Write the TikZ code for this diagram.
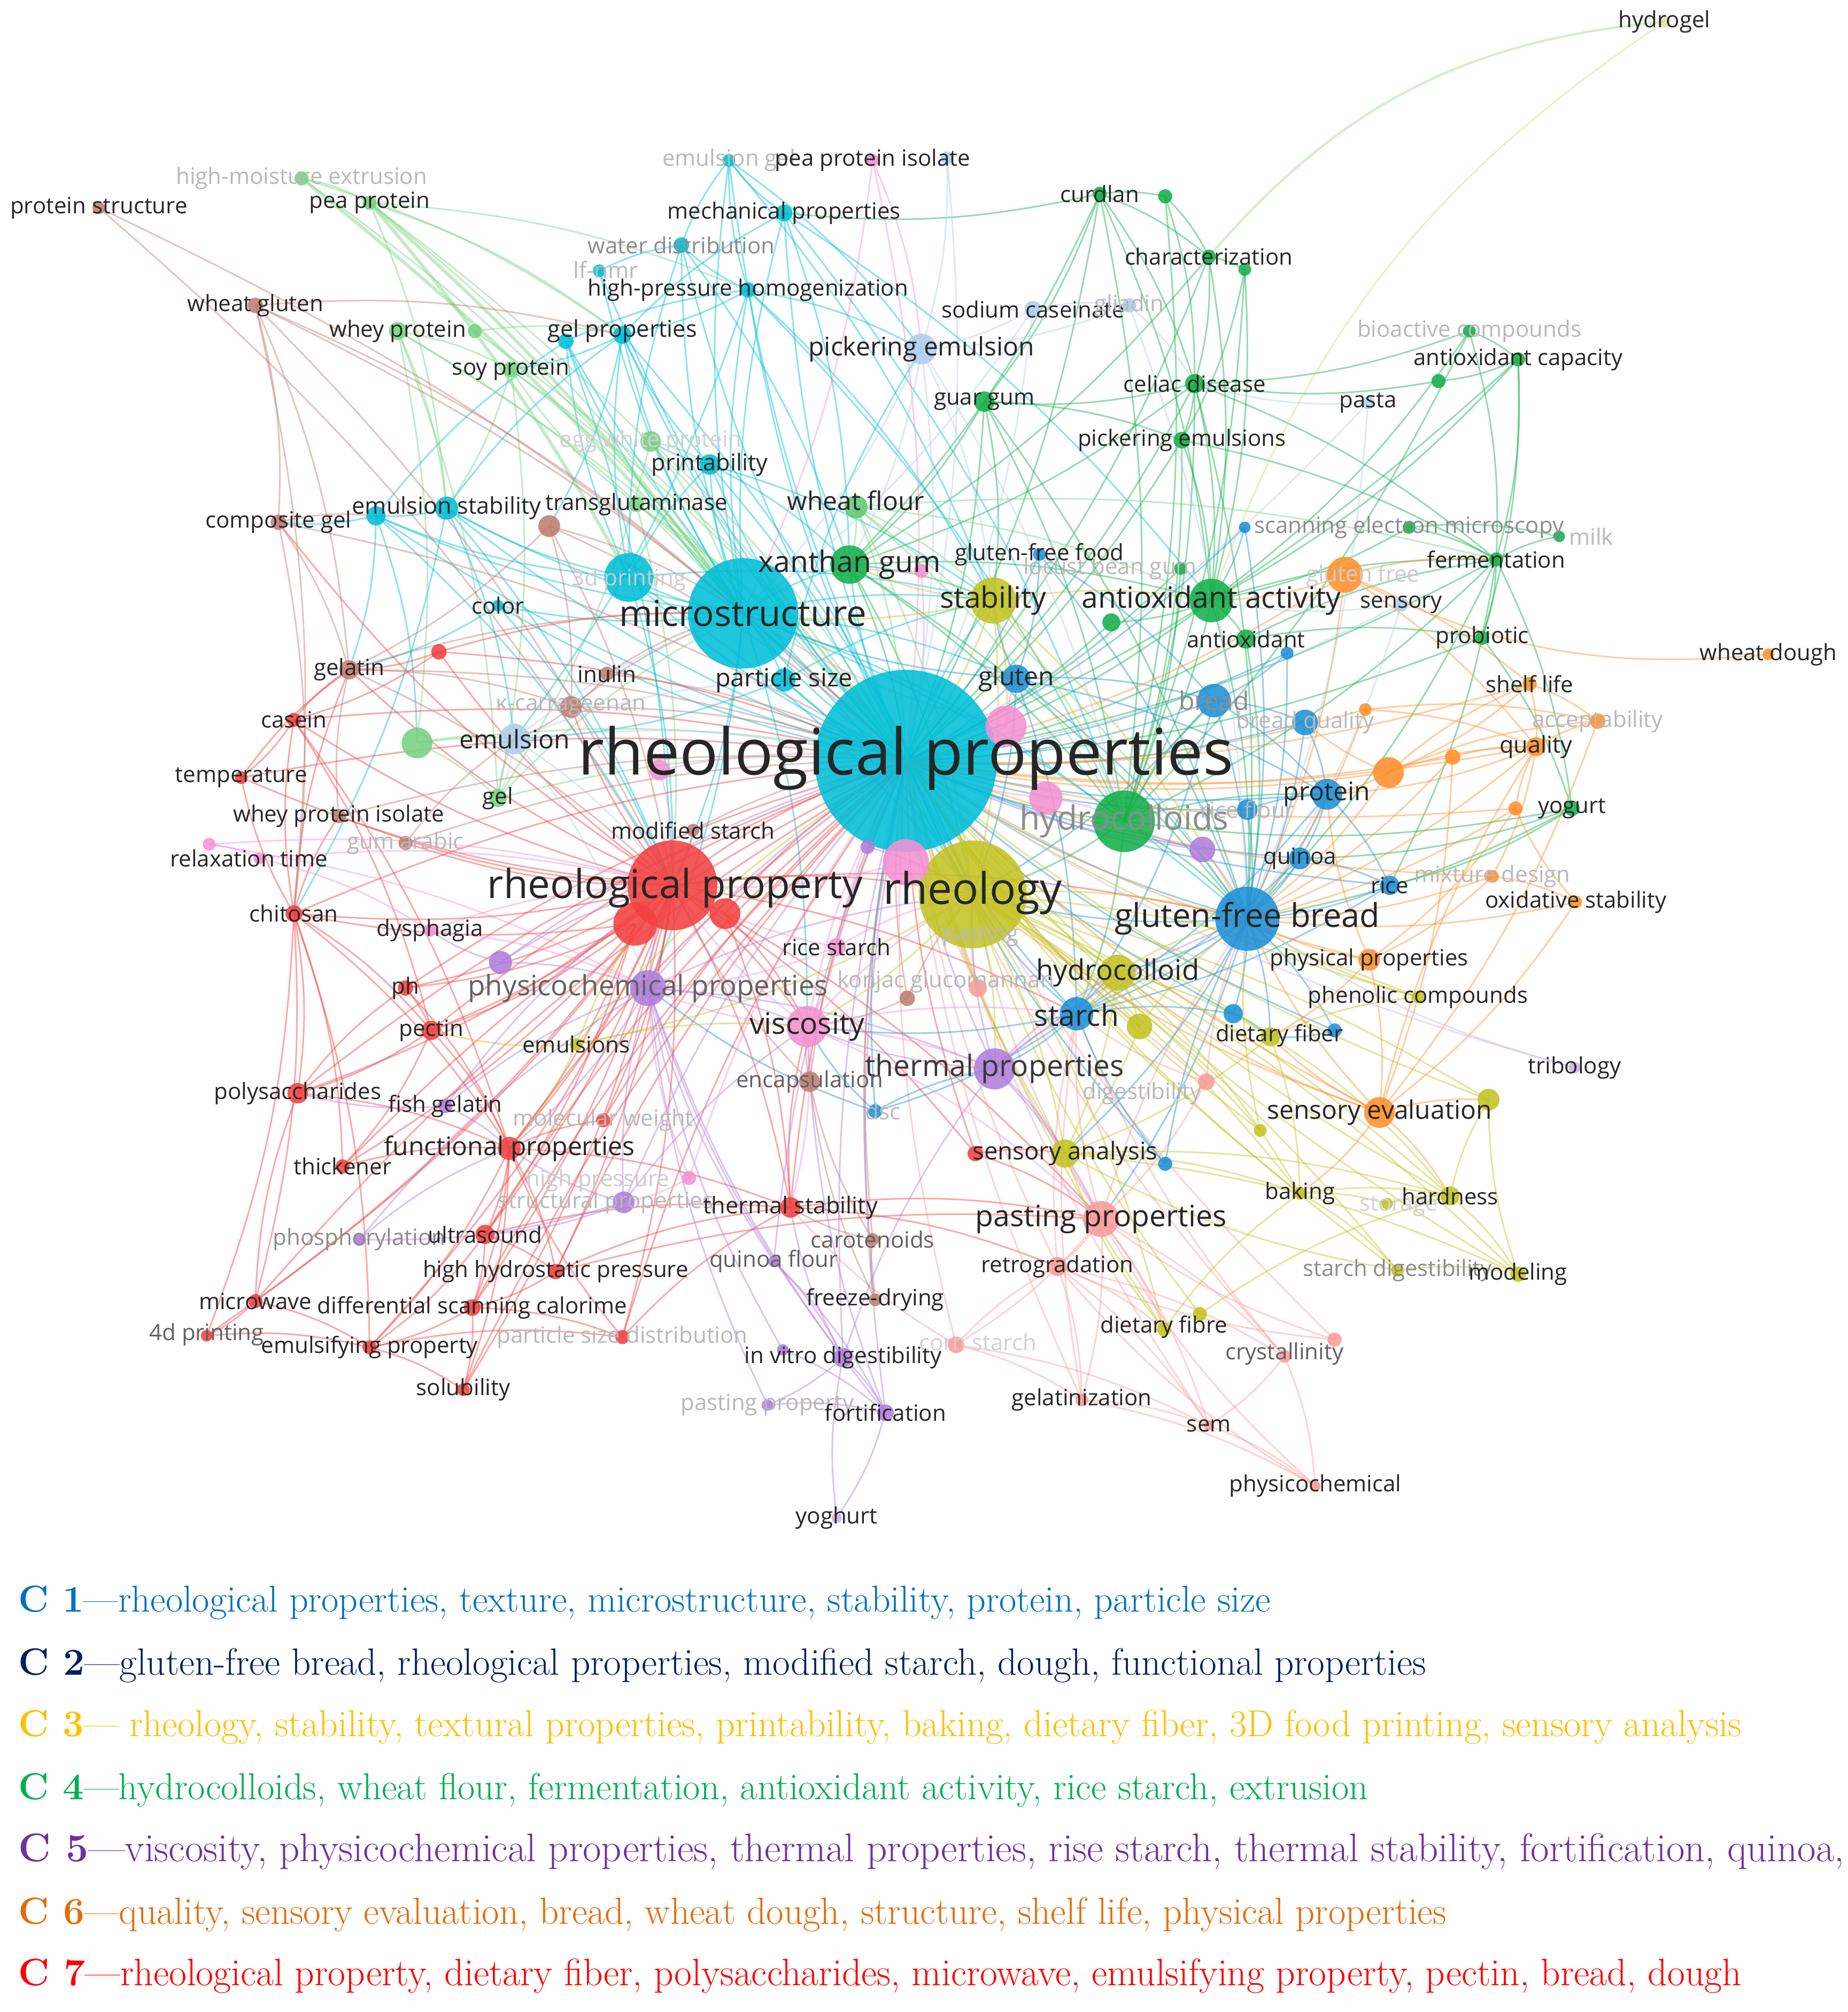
\documentclass[tikz,border=0pt]{standalone}
\usepackage{fontspec}
\usepackage{graphicx}
\newfontfamily\osans{Open Sans}
\definecolor{cy}{RGB}{0,190,215}
\definecolor{rd}{RGB}{242,65,65}
\definecolor{sa}{RGB}{250,155,155}
\definecolor{br}{RGB}{190,125,115}
\definecolor{lg}{RGB}{120,210,130}
\definecolor{gr}{RGB}{20,175,75}
\definecolor{bl}{RGB}{30,145,215}
\definecolor{ye}{RGB}{195,195,35}
\definecolor{orn}{RGB}{255,145,45}
\definecolor{pu}{RGB}{175,125,220}
\definecolor{pk}{RGB}{245,145,210}
\definecolor{lb}{RGB}{175,205,235}
\definecolor{hy}{RGB}{225,225,160}
\definecolor{pul}{RGB}{205,180,230}
\definecolor{cA}{RGB}{0,112,192}
\definecolor{cB}{RGB}{0,32,96}
\definecolor{cC}{RGB}{255,192,0}
\definecolor{cD}{RGB}{0,176,80}
\definecolor{cE}{RGB}{112,48,160}
\definecolor{cF}{RGB}{228,108,10}
\definecolor{cG}{RGB}{255,0,0}
\tikzset{
  ed/.style={line width=1.25pt, draw opacity=.45},
  kd/.style={circle, inner sep=0pt, fill opacity=.88, draw=none},
  lab/.style={inner sep=0pt, text=black!85, font={\osans\fontsize{17.5}{18}\selectfont}},
  fs/.style={font={\osans\fontsize{#1}{#1}\selectfont}},
  gA/.style={text=black!62},
  gB/.style={text=black!45},
  gC/.style={text=black!28},
  leg/.style={anchor=west, inner sep=0pt, font={\fontsize{26.5}{27}\selectfont}}
}
\newcommand\edges[2]{\foreach \a/\b in {#2} {\draw[ed,draw=#1] (\a) to[bend left=9] (\b);}}
\newcommand\kc[3]{\node[kd,minimum size=#2pt,fill=#3] (c#1) at (#1) {};}
\newcommand\kl[3][]{\node[lab,#1] (l#2) at (#2) {#3};}
\newcommand\klat[4][]{\node[lab,#1] (l#2) at (#3) {#4};}
\newcommand\legline[2]{\resizebox{#1pt}{!}{#2}}
\begin{document}
\begin{tikzpicture}[x=1pt,y=-1pt]
\useasboundingbox (0,0) rectangle (1440,1568);
% ---------- positions ----------
\coordinate (rp) at (706,593); \coordinate (micro) at (579,478); \coordinate (prnt) at (490,450);
\coordinate (partsz) at (611,530); \coordinate (emst) at (348,396); \coordinate (emsta) at (293,402);
\coordinate (printab) at (553,362); \coordinate (hph) at (583,226); \coordinate (gelp) at (485,261);
\coordinate (gelpa) at (441,266); \coordinate (waterd) at (531,191); \coordinate (lfnmr) at (467,211);
\coordinate (mechp) at (611,166); \coordinate (emgel) at (568,125); \coordinate (color) at (388,472);
\coordinate (rpy) at (524,690); \coordinate (rpyb) at (495,720); \coordinate (rpyc) at (565,712);
\coordinate (redA) at (342,508); \coordinate (casein) at (229,561); \coordinate (temp) at (188,606);
\coordinate (chitosan) at (229,712); \coordinate (ph) at (316,770); \coordinate (pectin) at (336,803);
\coordinate (polys) at (232,852); \coordinate (thick) at (267,909); \coordinate (funcp) at (397,895);
\coordinate (molw) at (470,873); \coordinate (ultra) at (378,962); \coordinate (hhp) at (433,991);
\coordinate (dsc) at (368,1019); \coordinate (microw) at (199,1014); \coordinate (dfour) at (161,1041);
\coordinate (psd) at (485,1042); \coordinate (emuls) at (288,1050); \coordinate (solub) at (361,1083);
\coordinate (thst) at (616,941); \coordinate (redB) at (760,899);
\coordinate (pastp) at (858,950); \coordinate (retro) at (824,987); \coordinate (corn) at (745,1048);
\coordinate (cryst) at (1001,1057); \coordinate (crysta) at (1040,1044); \coordinate (gelat) at (843,1091);
\coordinate (sem) at (942,1111); \coordinate (physchem) at (1025,1158); \coordinate (digest) at (940,843);
\coordinate (saA) at (762,770);
\coordinate (pstruct) at (77,162); \coordinate (wglut) at (199,238); \coordinate (compg) at (217,407);
\coordinate (transb) at (428,410); \coordinate (gelatin) at (272,522); \coordinate (inulin) at (473,525);
\coordinate (kcarr) at (445,551); \coordinate (wpi) at (264,636); \coordinate (gumar) at (316,657);
\coordinate (modst) at (540,647); \coordinate (konjac) at (707,778); \coordinate (encap) at (631,843);
\coordinate (carot) at (680,966); \coordinate (freeze) at (682,1013);
\coordinate (hme) at (235,139); \coordinate (peap) at (288,158); \coordinate (wheyp) at (310,258);
\coordinate (wheypb) at (370,258); \coordinate (soyp) at (398,288); \coordinate (egg) at (507,344);
\coordinate (transg) at (496,393); \coordinate (lgA) at (325,579); \coordinate (gel) at (388,622);
\coordinate (wflour) at (667,395);
\coordinate (curd) at (857,151); \coordinate (curdb) at (908,153); \coordinate (charz) at (942,200);
\coordinate (charzb) at (970,210); \coordinate (bioact) at (1145,258); \coordinate (antcap) at (1183,280);
\coordinate (antcapb) at (1121,297); \coordinate (celiac) at (931,299); \coordinate (guar) at (767,313);
\coordinate (pickes) at (921,343); \coordinate (xanth) at (662,440); \coordinate (antact) at (944,468);
\coordinate (antactb) at (866,485); \coordinate (antiox) at (971,498); \coordinate (semg) at (1098,411);
\coordinate (milk) at (1215,418); \coordinate (ferm) at (1166,436); \coordinate (locust) at (920,443);
\coordinate (probio) at (1155,497); \coordinate (yogurt) at (1225,630); \coordinate (hydcs) at (876,640);
\coordinate (gff) at (810,432); \coordinate (semb) at (970,411); \coordinate (blA) at (1003,509);
\coordinate (gluten) at (792,529); \coordinate (bread) at (946,546); \coordinate (breadq) at (1017,563);
\coordinate (protein) at (1034,619); \coordinate (riceflour) at (972,631); \coordinate (quinoa) at (1013,669);
\coordinate (rice) at (1083,690); \coordinate (gfb) at (972,716); \coordinate (starch) at (839,790);
\coordinate (blB) at (961,790); \coordinate (blC) at (1040,803); \coordinate (dscb) at (682,866);
\coordinate (blD) at (908,907);
\coordinate (hydrogel) at (1297,17); \coordinate (stab) at (774,468); \coordinate (rheo) at (758,697);
\coordinate (hydcoll) at (871,758); \coordinate (yeA) at (888,800); \coordinate (dfiber) at (990,808);
\coordinate (phenol) at (1105,777); \coordinate (emulsions) at (449,814); \coordinate (yeB) at (1160,857);
\coordinate (yeC) at (982,881); \coordinate (sensan) at (830,899); \coordinate (baking) at (1013,930);
\coordinate (storage) at (1081,938); \coordinate (hard) at (1130,932); \coordinate (stdig) at (1089,990);
\coordinate (model) at (1183,993); \coordinate (dfibre) at (907,1036); \coordinate (dfibreb) at (935,1024);
\coordinate (orA) at (1048,448); \coordinate (wdough) at (1378,510); \coordinate (shelf) at (1192,533);
\coordinate (orB) at (1064,553); \coordinate (accept) at (1245,562); \coordinate (orC) at (1132,590);
\coordinate (orD) at (1082,602); \coordinate (quality) at (1197,582); \coordinate (orE) at (1181,630);
\coordinate (mixd) at (1163,683); \coordinate (oxst) at (1228,703); \coordinate (physp) at (1067,748);
\coordinate (sensev) at (1075,867);
\coordinate (puA) at (937,662); \coordinate (puB) at (390,750); \coordinate (pcp) at (505,770);
\coordinate (thp) at (775,833); \coordinate (fishg) at (347,862); \coordinate (strp) at (486,937);
\coordinate (phosph) at (280,966); \coordinate (qflour) at (603,983); \coordinate (ivd) at (657,1058);
\coordinate (ivdb) at (610,1052); \coordinate (pastpy) at (598,1095); \coordinate (fort) at (690,1101);
\coordinate (yoghurt) at (652,1183); \coordinate (tribo) at (1227,832); \coordinate (puC) at (676,660);
\coordinate (ppi) at (680,125); \coordinate (relaxa) at (163,658); \coordinate (relaxb) at (202,669);
\coordinate (dysph) at (335,725); \coordinate (pkA) at (784,566); \coordinate (pkB) at (815,622);
\coordinate (pkC) at (514,600); \coordinate (pkD) at (706,672); \coordinate (ricest) at (652,738);
\coordinate (visc) at (629,800); \coordinate (pkE) at (537,918); \coordinate (pkF) at (718,445);
\coordinate (lbA) at (738,123); \coordinate (sodc) at (805,241); \coordinate (gliad) at (880,238);
\coordinate (picke) at (718,272); \coordinate (pasta) at (1066,314); \coordinate (emul) at (401,576);
\coordinate (sensory) at (1092,471);
% ---------- connectors ----------
\edges{cy}{rp/micro, rp/prnt, rp/partsz, rp/emst, rp/emsta, rp/printab, rp/hph, rp/gelp, rp/gelpa, rp/waterd, rp/mechp, rp/emgel, rp/color, rp/lfnmr, micro/prnt, micro/partsz, micro/emst, micro/emsta, micro/printab, micro/hph, micro/gelp, micro/gelpa, micro/waterd, micro/mechp, micro/emgel, micro/color, micro/lfnmr, prnt/printab, prnt/gelp, prnt/emst, prnt/gelpa, prnt/waterd, prnt/emsta, emst/emsta, emst/gelp, emsta/gelpa, printab/gelp, hph/gelp, hph/emgel, hph/waterd, mechp/emgel, mechp/xanth, waterd/emgel, lfnmr/waterd, gelp/mechp, gelpa/hph, emst/rpy, emsta/rpy, micro/rpy, micro/rheo, micro/xanth, micro/stab, micro/gluten, micro/hydcs, micro/visc, prnt/rpy, partsz/emul, partsz/stab, partsz/picke, emgel/picke, mechp/hydcs, hph/picke, hph/emul, emst/emul, printab/rheo, printab/stab, color/rpy, color/gelatin, gelp/transb, gelp/soyp, hph/stab, micro/gfb, micro/pcp, prnt/rheo, prnt/stab, emsta/compg, emsta/gelatin, emst/chitosan, waterd/xanth, mechp/antact, emgel/stab, printab/xanth, gelp/rheo, gelpa/rpy, hph/hydcs, rp/stab, rp/xanth, partsz/rheo, emsta/lgA, printab/egg}
\edges{gr}{curd/charz, curd/curdb, curd/rp, curd/xanth, curd/guar, curd/celiac, curd/mechp, curd/hydcs, curdb/charz, curdb/celiac, charz/charzb, charz/celiac, charz/antact, charz/rp, charzb/hydcs, charzb/antact, bioact/antcap, bioact/celiac, bioact/antact, bioact/ferm, antcap/antcapb, antcap/ferm, antcap/antact, antcap/probio, antcapb/celiac, celiac/guar, celiac/pickes, celiac/xanth, celiac/hydcs, celiac/rp, celiac/gfb, celiac/antact, guar/xanth, guar/rp, guar/hydcs, guar/stab, guar/gfb, pickes/rp, pickes/antact, pickes/hydcs, xanth/rp, xanth/hydcs, xanth/antact, xanth/gfb, xanth/rheo, xanth/stab, antact/rp, antact/antiox, antact/ferm, antact/hydcs, antact/gfb, antact/antactb, antiox/rp, antiox/ferm, antiox/probio, semg/ferm, semg/milk, semg/antact, ferm/probio, ferm/milk, ferm/yogurt, ferm/rp, ferm/hydcs, ferm/gfb, probio/yogurt, probio/rp, yogurt/rice, yogurt/gfb, yogurt/hydcs, hydcs/rp, hydcs/gfb, hydcs/rheo, hydcs/starch, hydcs/bread, hydcs/protein, locust/hydcs, locust/rp, antactb/rp, guar/pickes, charz/xanth, curd/antact, celiac/ferm, pickes/ferm, antiox/gfb, ferm/rice, yogurt/quinoa, bioact/hydcs, antcap/rp, charzb/pickes, curdb/hydcs}
\edges{lg}{hme/peap, hme/micro, peap/micro, peap/rp, peap/gelp, peap/hph, wheyp/rp, wheyp/micro, wheyp/soyp, wheyp/emst, wheyp/gel, wheyp/lgA, wheypb/gelp, wheypb/rp, soyp/rp, soyp/micro, soyp/emst, soyp/gel, egg/rp, egg/micro, egg/printab, transg/rp, transg/micro, transg/soyp, lgA/rp, lgA/emul, lgA/gel, gel/rp, gel/micro, gel/emul, wflour/rp, wflour/xanth, wflour/ferm, wflour/gfb, wflour/rheo, wflour/stab, wflour/hydcs, wflour/antact, egg/gel, transg/rpy, hme/gelp, peap/emst}
\foreach \a/\b in {peap/micro, hme/micro, peap/prnt} {\draw[ed,draw=lg,line width=2.6pt] (\a) to[bend left=6] (\b);}
\edges{rd}{rpy/casein, rpy/temp, rpy/chitosan, rpy/ph, rpy/pectin, rpy/polys, rpy/thick, rpy/funcp, rpy/molw, rpy/ultra, rpy/hhp, rpy/dsc, rpy/microw, rpy/dfour, rpy/psd, rpy/emuls, rpy/solub, rpy/thst, rpy/redA, rpy/rp, rpy/rheo, rpy/visc, rpy/pcp, rpy/starch, rpy/redB, rpy/pastp, rpy/gfb, rpyb/chitosan, rpyb/pectin, rpyb/funcp, rpyb/ultra, rpyb/ph, rpyc/thst, rpyc/visc, rpyc/rp, chitosan/casein, chitosan/temp, chitosan/pectin, chitosan/polys, chitosan/gelatin, chitosan/wpi, chitosan/rp, chitosan/dfour, chitosan/microw, chitosan/funcp, chitosan/emuls, casein/temp, casein/gelatin, casein/rp, casein/funcp, temp/gelatin, temp/rp, pectin/polys, pectin/funcp, pectin/rp, pectin/thick, polys/rp, polys/funcp, thick/funcp, thick/rp, funcp/ultra, funcp/hhp, funcp/dsc, funcp/molw, funcp/rp, funcp/thst, funcp/emuls, funcp/solub, ultra/hhp, ultra/dsc, ultra/emuls, ultra/rp, hhp/dsc, hhp/rp, hhp/thst, dsc/solub, dsc/emuls, dsc/rp, dsc/psd, microw/emuls, microw/dfour, microw/polys, microw/rp, emuls/solub, emuls/psd, psd/rp, psd/thst, thst/rp, thst/pastp, thst/visc, redB/rp, redB/pastp, redA/rp, redA/gelatin, molw/rp, redA/micro, ph/rp, ph/pectin, casein/pectin, dfour/emuls, hhp/pastp, thst/retro, solub/rp, ph/funcp, redA/casein, chitosan/thick, polys/ph, redB/sensan, ultra/thst, psd/funcp, rpy/gelatin, rpy/compg, rpy/wpi, rpy/kcarr, rpy/gumar}
\edges{sa}{pastp/retro, pastp/corn, pastp/cryst, pastp/gelat, pastp/sem, pastp/rp, pastp/rheo, pastp/starch, pastp/gfb, pastp/dfibre, retro/gelat, retro/cryst, retro/sem, retro/rp, retro/starch, corn/gelat, corn/rp, corn/thst, corn/sem, cryst/sem, cryst/physchem, cryst/rp, crysta/rp, crysta/pastp, gelat/sem, gelat/physchem, sem/physchem, physchem/retro, digest/rp, digest/pastp, digest/starch, gelat/rp, saA/rp, saA/rheo, crysta/retro, corn/retro, physchem/pastp, digest/gfb, cryst/starch, sem/rp, gelat/starch, retro/dfibre}
\edges{br}{pstruct/rp, pstruct/rpy, wglut/compg, wglut/gelatin, wglut/rp, wglut/micro, wglut/gelp, wglut/chitosan, wglut/rpy, transb/rp, transb/micro, transb/gelatin, transb/rpy, gelatin/rp, gelatin/micro, gelatin/kcarr, inulin/rp, inulin/micro, kcarr/rp, kcarr/micro, kcarr/emul, wpi/rp, wpi/gelatin, gumar/rp, gumar/emul, modst/rp, modst/rpy, konjac/rp, konjac/rheo, konjac/visc, encap/rp, encap/visc, encap/rpy, carot/rp, carot/encap, carot/thst, freeze/rp, freeze/carot, freeze/encap, compg/rp, compg/gelatin, compg/emsta, compg/chitosan, inulin/kcarr, transb/kcarr, gelatin/rpy}
\edges{bl}{gff/rp, gff/gfb, gff/gluten, gluten/rp, gluten/gfb, gluten/bread, gluten/protein, gluten/micro, bread/rp, bread/gfb, bread/breadq, bread/protein, breadq/rp, breadq/gfb, protein/rp, protein/gfb, protein/quinoa, protein/rice, riceflour/gfb, riceflour/rp, quinoa/gfb, quinoa/rp, quinoa/rice, rice/gfb, rice/rp, gfb/rp, gfb/starch, gfb/rheo, gfb/hydcoll, gfb/dfiber, gfb/blB, gfb/blC, starch/rp, starch/rheo, starch/hydcoll, starch/thp, starch/dscb, starch/blB, blB/rp, blC/rp, dscb/rp, dscb/thp, dscb/pcp, blD/rp, blD/gfb, semb/rp, semb/gfb, blA/rp, blA/gfb, starch/visc, bread/starch, protein/starch, gfb/sensan, gluten/starch, blD/starch, gff/bread, semb/antact, blA/bread, riceflour/protein, quinoa/starch, breadq/protein, bread/rheo, gluten/rheo, gfb/pastp, blC/dfiber, blB/dfiber, dscb/visc, rice/starch, gluten/stab}
\edges{ye}{stab/rp, stab/rheo, stab/micro, stab/xanth, rheo/rp, rheo/hydcoll, rheo/yeA, rheo/dfiber, rheo/sensan, rheo/baking, rheo/hard, rheo/stdig, rheo/model, rheo/dfibre, rheo/emulsions, rheo/yeB, rheo/yeC, rheo/phenol, rheo/gfb, rheo/visc, hydcoll/rp, hydcoll/yeA, hydcoll/dfiber, hydcoll/sensan, hydcoll/baking, yeA/rp, yeA/sensan, dfiber/sensan, dfiber/baking, dfiber/hard, sensan/rp, sensan/baking, sensan/hard, sensan/model, baking/hard, baking/storage, baking/stdig, storage/hard, hard/model, hard/yeB, stdig/model, model/yeB, emulsions/rp, emulsions/rpy, emulsions/pectin, dfibre/rp, dfibre/sensan, dfibre/baking, yeC/rp, phenol/rp, dfibreb/rheo, dfibreb/hard, yeB/rp, stdig/rp, model/rp, hard/rp, baking/rp, yeC/gfb, phenol/gfb, stab/hydcs, stab/gfb, stab/antact, rheo/thp, hydcoll/starch, hydcoll/gfb, yeA/gfb, dfiber/phenol, stdig/sensan, emulsions/visc, emulsions/funcp, stab/pkA}
\draw[ed,draw=lg!60!hy,line width=1.8pt] (hydrogel) to[bend right=22] (charz);
\draw[ed,draw=hy!70!ye] (hydrogel) to[bend right=18] (antact);
\edges{orn}{orA/rp, orA/antact, orA/shelf, orA/gfb, orA/ferm, shelf/quality, shelf/accept, shelf/orD, orB/accept, orB/quality, orC/quality, orD/quality, orD/rp, orD/gfb, orD/protein, orD/shelf, orD/accept, orE/quality, orE/gfb, orE/physp, quality/accept, quality/rp, quality/gfb, quality/mixd, mixd/oxst, mixd/gfb, mixd/physp, oxst/gfb, oxst/sensev, physp/rp, physp/gfb, physp/sensev, physp/dfiber, sensev/rp, sensev/gfb, sensev/hydcoll, sensev/yeB, sensev/hard, sensev/quality, sensev/baking, accept/sensev, orC/sensev, orC/rp, orB/rp, orA/quality, orD/breadq, sensev/rheo, sensev/dfiber, physp/protein, quality/protein, orE/rp, shelf/rp, mixd/rp, oxst/orE, orB/gfb, orC/gfb}
\draw[ed,draw=orn] (orA) to[bend right=16] (wdough);
\edges{pu}{puA/rp, puA/gfb, puA/hydcs, puB/rpy, puB/pcp, puB/dysph, pcp/rp, pcp/rpy, pcp/visc, pcp/thp, pcp/rheo, thp/rp, thp/visc, thp/rheo, thp/starch, thp/pastp, fishg/pcp, fishg/rpy, strp/rp, strp/pcp, strp/phosph, strp/funcp, phosph/funcp, phosph/pcp, qflour/ivd, qflour/rp, ivd/fort, ivd/pastpy, ivd/rp, ivd/pcp, ivd/thp, ivdb/fort, pastpy/fort, fort/yoghurt, fort/rp, fort/visc, yoghurt/ivd, puC/rp, puC/rheo, strp/visc, qflour/fort, ivd/thst, fort/pcp, thp/gfb, puB/rp, pcp/funcp, fishg/funcp, strp/ultra, pastpy/pcp, ivdb/pcp, qflour/pcp, thp/sensan, thp/hydcoll, fishg/polys}
\edges{pul}{tribo/gfb, tribo/rp}
\edges{pk}{ppi/picke, ppi/rp, ppi/micro, relaxa/relaxb, relaxa/rpy, relaxb/rpy, relaxb/dysph, dysph/rpy, dysph/pcp, pkA/rp, pkB/rp, pkC/rp, pkD/rp, pkD/rheo, ricest/rp, ricest/rpy, visc/rp, visc/rpy, visc/rheo, visc/pcp, visc/thst, pkE/rp, pkF/rp, pkE/strp, pkA/gluten, pkB/hydcs, pkC/rpy, pkD/rpy, ricest/pcp, ricest/visc, visc/thp, visc/starch, pkA/micro, relaxa/pcp, pkF/xanth, ricest/rheo, visc/pastp, visc/encap, pkE/pcp}
\edges{lb}{lbA/picke, sodc/picke, sodc/gliad, sodc/rp, gliad/picke, gliad/celiac, picke/rp, picke/micro, pasta/celiac, pasta/gfb, emul/rp, emul/micro, emul/rpy, emul/partsz, sensory/gfb, sensory/rp, lbA/rp, picke/xanth, sodc/micro, gliad/gfb, pasta/rp, picke/hydcs, emul/pcp, sensory/antact, emul/gel, picke/stab}
% ---------- circles ----------
\kc{rp}{142}{cy} \kc{rheo}{84}{ye} \kc{micro}{86}{cy} \kc{rpy}{70}{rd}
\kc{gfb}{50}{bl} \kc{hydcs}{48}{gr} \kc{prnt}{38}{cy} \kc{stab}{36}{ye} \kc{pkD}{36}{pk}
\kc{antact}{34}{gr} \kc{rpyb}{34}{rd} \kc{pkA}{32}{pk} \kc{visc}{32}{pk} \kc{thp}{32}{pu}
\kc{xanth}{30}{gr} \kc{pastp}{28}{sa} \kc{pcp}{28}{pu} \kc{hydcoll}{28}{ye} \kc{orA}{28}{orn}
\kc{starch}{26}{bl} \kc{bread}{26}{bl} \kc{pkB}{26}{pk} \kc{rpyc}{24}{rd} \kc{picke}{24}{lb}
\kc{emul}{24}{lb} \kc{protein}{24}{bl} \kc{orD}{24}{orn} \kc{sensev}{24}{orn} \kc{lgA}{24}{lg}
\kc{gluten}{22}{bl} \kc{sensan}{22}{ye} \kc{puA}{20}{pu} \kc{yeA}{20}{ye} \kc{breadq}{20}{bl}
\kc{partsz}{18}{cy} \kc{emst}{18}{cy} \kc{wflour}{18}{lg!75!gr} \kc{funcp}{18}{rd} \kc{puB}{18}{pu}
\kc{transb}{17}{br} \kc{kcarr}{17}{br} \kc{quinoa}{17}{bl} \kc{physp}{17}{orn} \kc{yeB}{17}{ye} \kc{strp}{17}{pu}
\kc{printab}{16}{cy} \kc{egg}{16}{lg} \kc{guar}{16}{gr} \kc{riceflour}{16}{bl} \kc{thst}{16}{rd}
\kc{polys}{16}{rd} \kc{encap}{16}{br} \kc{pkC}{16}{pk}
\kc{emsta}{15}{cy} \kc{celiac}{15}{gr} \kc{antiox}{15}{gr} \kc{gelatin}{15}{br} \kc{pectin}{15}{rd}
\kc{ultra}{15}{rd} \kc{retro}{15}{sa} \kc{hard}{15}{ye} \kc{dfiber}{15}{ye} \kc{blB}{15}{bl}
\kc{rice}{15}{bl} \kc{quality}{15}{orn} \kc{ivd}{15}{pu} \kc{saA}{14}{sa}
\kc{gelp}{14}{cy} \kc{wheyp}{14}{lg} \kc{gel}{14}{lg} \kc{antactb}{14}{gr} \kc{ricest}{14}{pk}
\kc{mechp}{13}{cy} \kc{chitosan}{13}{rd} \kc{dsc}{13}{rd} \kc{pickes}{13}{gr} \kc{corn}{13}{sa}
\kc{digest}{13}{sa} \kc{sodc}{13}{lb} \kc{fort}{13}{pu}
\kc{hph}{12}{cy} \kc{gelpa}{12}{cy} \kc{waterd}{12}{cy} \kc{redA}{12}{rd} \kc{ph}{12}{rd}
\kc{hhp}{12}{rd} \kc{redB}{12}{rd} \kc{wglut}{12}{br} \kc{compg}{12}{br} \kc{konjac}{12}{br}
\kc{soyp}{12}{lg} \kc{transg}{12}{lg} \kc{yogurt}{12}{gr} \kc{accept}{12}{orn} \kc{orC}{12}{orn}
\kc{model}{12}{ye}
\kc{casein}{11}{rd} \kc{thick}{11}{rd} \kc{molw}{11}{rd} \kc{microw}{11}{rd} \kc{psd}{11}{rd}
\kc{emuls}{11}{rd} \kc{crysta}{11}{sa} \kc{inulin}{11}{br} \kc{wpi}{11}{br} \kc{gumar}{11}{br}
\kc{hme}{11}{lg} \kc{peap}{11}{lg} \kc{wheypb}{11}{lg} \kc{curd}{11}{gr} \kc{curdb}{11}{gr}
\kc{charz}{11}{gr} \kc{antcap}{11}{gr} \kc{antcapb}{11}{gr} \kc{ferm}{11}{gr} \kc{probio}{11}{gr}
\kc{blC}{11}{bl} \kc{dscb}{11}{bl} \kc{blD}{11}{bl} \kc{shelf}{11}{orn} \kc{orE}{11}{orn}
\kc{fishg}{11}{pu} \kc{puC}{11}{pu} \kc{pkE}{11}{pk} \kc{pkF}{11}{pk} \kc{gliad}{11}{lb}
\kc{sensory}{11}{lb} \kc{dfibre}{11}{ye} \kc{dfibreb}{11}{ye}
\kc{lfnmr}{10}{cy} \kc{emgel}{10}{cy} \kc{temp}{10}{rd} \kc{solub}{10}{rd} \kc{cryst}{10}{sa}
\kc{gelat}{10}{sa} \kc{pstruct}{10}{br} \kc{modst}{10}{br} \kc{carot}{10}{br} \kc{freeze}{10}{br}
\kc{charzb}{10}{gr} \kc{bioact}{10}{gr} \kc{semg}{10}{gr} \kc{locust}{10}{gr} \kc{gff}{10}{bl}
\kc{blA}{10}{bl} \kc{emulsions}{10}{ye} \kc{yeC}{10}{ye} \kc{baking}{10}{ye} \kc{stdig}{10}{ye}
\kc{phenol}{10}{ye} \kc{orB}{10}{orn} \kc{mixd}{10}{orn} \kc{oxst}{10}{orn} \kc{phosph}{10}{pu}
\kc{ppi}{10}{pk} \kc{relaxa}{10}{pk} \kc{dysph}{10}{pk} \kc{lbA}{10}{lb} \kc{pasta}{10}{lb}
\kc{color}{9}{cy} \kc{dfour}{9}{rd} \kc{milk}{9}{gr} \kc{semb}{9}{bl} \kc{hydrogel}{9}{hy}
\kc{storage}{9}{ye} \kc{wdough}{9}{orn} \kc{qflour}{9}{pu} \kc{ivdb}{9}{pu} \kc{pastpy}{9}{pu}
\kc{tribo}{9}{pul} \kc{relaxb}{9}{pk} \kc{sem}{8}{sa} \kc{physchem}{8}{sa} \kc{yoghurt}{8}{pul}
% ---------- labels ----------
\kl{hydrogel}{hydrogel}
\kl[gC]{hme}{high-moisture extrusion}
\kl{peap}{pea protein}
\kl{pstruct}{protein structure}
\kl[gC]{emgel}{emulsion gel}
\kl{ppi}{pea protein isolate}
\kl{mechp}{mechanical properties}
\kl{curd}{curdlan}
\kl[gB]{waterd}{water distribution}
\klat[gC]{lfnmr}{472,210}{lf-nmr}
\kl{hph}{high-pressure homogenization}
\kl{charz}{characterization}
\kl{sodc}{sodium caseinate}
\kl[gC]{gliad}{gliadin}
\kl{wglut}{wheat gluten}
\kl{wheyp}{whey protein}
\klat[fs=18]{gelp}{485,258}{gel properties}
\kl[gC]{bioact}{bioactive compounds}
\kl{soyp}{soy protein}
\kl[fs=20]{picke}{pickering emulsion}
\kl{antcap}{antioxidant capacity}
\kl{celiac}{celiac disease}
\kl{guar}{guar gum}
\kl{pasta}{pasta}
\kl{pickes}{pickering emulsions}
\kl[gC,text=black!18]{egg}{egg white protein}
\kl[fs=18]{printab}{printability}
\klat[fs=20]{wflour}{667,390}{wheat flour}
\kl{transg}{transglutaminase}
\kl[fs=18]{emst}{emulsion stability}
\kl{compg}{composite gel}
\kl[gB]{semg}{scanning electron microscopy}
\klat[gC]{milk}{1240,418}{milk}
\kl{ferm}{fermentation}
\kl{gff}{gluten-free food}
\klat[gC]{locust}{865,443}{locust bean gum}
\klat[gC,text=black!20]{orA}{1062,449}{gluten free}
\kl{sensory}{sensory}
\kl[fs=23]{xanth}{xanthan gum}
\klat[gC,text=black!20]{prnt}{490,452}{3d printing}
\kl[fs=28]{micro}{microstructure}
\kl[fs=23]{stab}{stability}
\kl[fs=23]{antact}{antioxidant activity}
\kl{color}{color}
\kl{antiox}{antioxidant}
\kl{probio}{probiotic}
\kl{wdough}{wheat dough}
\kl{inulin}{inulin}
\kl[fs=19.5]{partsz}{particle size}
\kl[fs=20]{gluten}{gluten}
\kl{gelatin}{gelatin}
\kl{shelf}{shelf life}
\kl[fs=20,gB]{bread}{bread}
\kl[gC]{kcarr}{κ-carrageenan}
\kl[gC]{breadq}{bread quality}
\kl[gC]{accept}{acceptability}
\kl{casein}{casein}
\klat[fs=50]{rp}{706,591}{rheological properties}
\kl[fs=20]{emul}{emulsion}
\kl[fs=18]{quality}{quality}
\kl{temp}{temperature}
\kl[fs=20]{protein}{protein}
\kl{gel}{gel}
\kl{yogurt}{yogurt}
\kl{wpi}{whey protein isolate}
\kl[fs=26,gB]{hydcs}{hydrocolloids}
\kl[gC]{riceflour}{rice flour}
\kl{modst}{modified starch}
\kl[gC]{gumar}{gum arabic}
\klat{relaxb}{194,669}{relaxation time}
\kl{quinoa}{quinoa}
\klat[fs=31]{rpy}{526,692}{rheological property}
\klat[fs=34]{rheo}{758,696}{rheology}
\kl{rice}{rice}
\kl[gC]{mixd}{mixture design}
\kl{chitosan}{chitosan}
\kl{dysph}{dysphagia}
\kl[fs=25.5]{gfb}{gluten-free bread}
\kl{oxst}{oxidative stability}
\klat[gC]{pasting}{764,729}{pasting}
\kl{ricest}{rice starch}
\kl{physp}{physical properties}
\kl[fs=22]{hydcoll}{hydrocolloid}
\kl[fs=22,gA]{pcp}{physicochemical properties}
\kl{ph}{ph}
\klat[gC]{konjac}{737,765}{konjac glucomannan}
\kl{phenol}{phenolic compounds}
\klat[fs=23]{starch}{839,791}{starch}
\klat{dfiber}{997,807}{dietary fiber}
\kl{pectin}{pectin}
\kl[fs=23]{visc}{viscosity}
\kl{emulsions}{emulsions}
\kl{tribo}{tribology}
\kl[fs=23,text=black!78]{thp}{thermal properties}
\kl{polys}{polysaccharides}
\kl[gA]{encap}{encapsulation}
\klat[gC]{digest}{890,852}{digestibility}
\kl{fishg}{fish gelatin}
\kl[fs=20]{sensev}{sensory evaluation}
\kl[gC]{molw}{molecular weight}
\klat[gC]{dscb}{688,866}{dsc}
\kl[fs=20]{funcp}{functional properties}
\kl[fs=19]{sensan}{sensory analysis}
\kl{thick}{thickener}
\klat[gC]{strp}{472,937}{structural properties}
\klat[gC,text=black!20]{hipress}{466,920}{high pressure}
\kl[fs=18]{thst}{thermal stability}
\kl{baking}{baking}
\klat[gC,text=black!18]{storage}{1090,940}{storage}
\kl{hard}{hardness}
\kl[fs=23]{pastp}{pasting properties}
\kl[gB]{phosph}{phosphorylation}
\kl{ultra}{ultrasound}
\kl[gA]{carot}{carotenoids}
\kl[gA]{qflour}{quinoa flour}
\kl{hhp}{high hydrostatic pressure}
\kl{retro}{retrogradation}
\kl[gB]{stdig}{starch digestibility}
\kl{model}{modeling}
\kl{microw}{microwave}
\kl{dsc}{differential scanning calorime}
\kl{freeze}{freeze-drying}
\klat[gA]{dfour}{161,1040}{4d printing}
\kl[gC]{psd}{particle size distribution}
\klat[gC,text=black!18]{corn}{762,1046}{corn starch}
\kl{emuls}{emulsifying property}
\klat{dfibre}{907,1034}{dietary fibre}
\klat[gA]{cryst}{1001,1055}{crystallinity}
\kl{ivd}{in vitro digestibility}
\kl{solub}{solubility}
\kl{gelat}{gelatinization}
\kl[gC]{pastpy}{pasting property}
\kl{fort}{fortification}
\kl{sem}{sem}
\kl{physchem}{physicochemical}
\kl{yoghurt}{yoghurt}
% ---------- legend ----------
\node[leg,text=cA] (leg1) at (14,1249) {\legline{976}{\textbf{C 1}—rheological properties, texture, microstructure, stability, protein, particle size}};
\node[leg,text=cB] (leg2) at (14,1298) {\legline{1097}{\textbf{C 2}—gluten-free bread, rheological properties, modified starch, dough, functional properties}};
\node[leg,text=cC] (leg3) at (14,1346) {\legline{1343}{\textbf{C 3}— rheology, stability, textural properties, printability, baking, dietary fiber, 3D food printing, sensory analysis}};
\node[leg,text=cD] (leg4) at (14,1395) {\legline{1052}{\textbf{C 4}—hydrocolloids, wheat flour, fermentation, antioxidant activity, rice starch, extrusion}};
\node[leg,text=cE] (leg5) at (14,1443) {\legline{1423}{\textbf{C 5}—viscosity, physicochemical properties, thermal properties, rise starch, thermal stability, fortification, quinoa,}};
\node[leg,text=cF] (leg6) at (14,1492) {\legline{1113}{\textbf{C 6}—quality, sensory evaluation, bread, wheat dough, structure, shelf life, physical properties}};
\node[leg,text=cG] (leg7) at (14,1540) {\legline{1343}{\textbf{C 7}—rheological property, dietary fiber, polysaccharides, microwave, emulsifying property, pectin, bread, dough}};
\end{tikzpicture}
\end{document}
